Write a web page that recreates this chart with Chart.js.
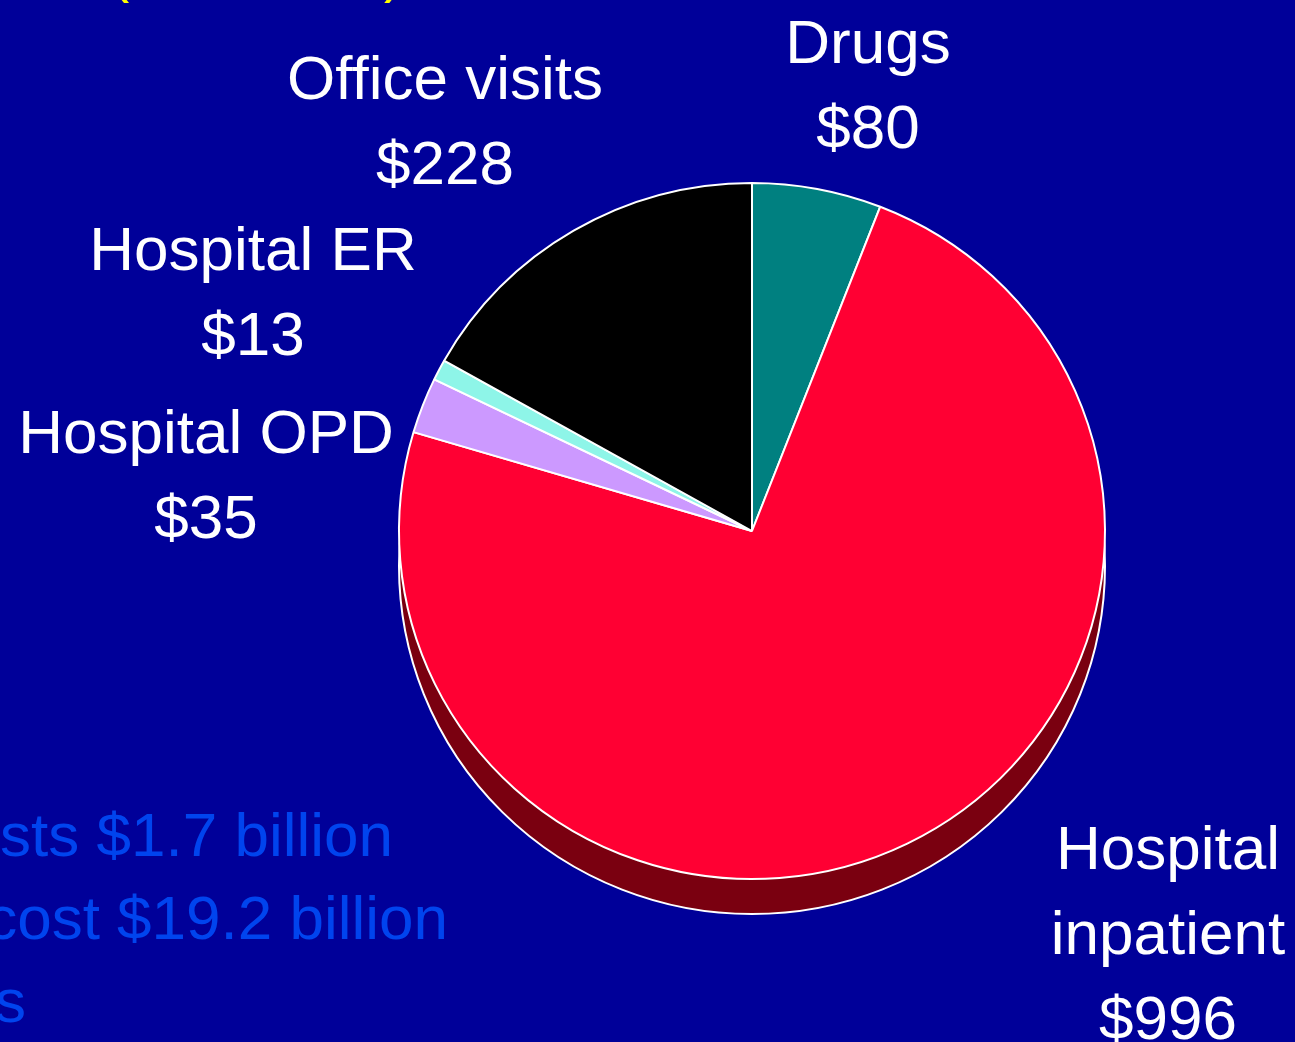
<!DOCTYPE html>
<html>
<head>
<meta charset="utf-8">
<style>
  html, body { margin: 0; padding: 0; background: #000099; overflow: hidden; }
  #wrap { position: relative; width: 1295px; height: 1042px; }
</style>
<script src="https://cdn.jsdelivr.net/npm/chart.js@4/dist/chart.umd.min.js"></script>
</head>
<body>
<div id="wrap"><canvas id="pie" width="1295" height="1042"></canvas></div>
<script>
// Spending by service type, $ millions
const categories = ['Drugs', 'Hospital inpatient', 'Hospital OPD', 'Hospital ER', 'Office visits'];
const amounts = [80, 996, 35, 13, 228];
const sliceColors = ['#008080', '#FF0033', '#CC99FF', '#8EF5E8', '#000000'];
const shadowColors = ['#004444', '#7A0010', '#664C80', '#477A74', '#000000'];

// Label text lines and their anchor points (centre x, first baseline y)
const labelLines = [
  { lines: ['Drugs', '$80'], x: 868, y: 63 },
  { lines: ['Hospital', 'inpatient', '$996'], x: 1168, y: 869 },
  { lines: ['Hospital OPD', '$35'], x: 206, y: 453 },
  { lines: ['Hospital ER', '$13'], x: 253, y: 270 },
  { lines: ['Office visits', '$228'], x: 445, y: 99 }
];
const noteLines = ['sts $1.7 billion', 'cost $19.2 billion', 's'];
const titleText = '(in millions)';

const FONT = '"Liberation Sans", Arial, Helvetica, sans-serif';
const DEPTH = 35;          // extrusion depth in screen pixels
const TILT = 0.986;        // slight vertical foreshortening of the disc

// Tilt the disc slightly: squash around the pie centre while datasets draw
const tilt = {
  id: 'tilt',
  beforeDatasetsDraw(chart) {
    const arc = chart.getDatasetMeta(0).data[0];
    const ctx = chart.ctx;
    ctx.save();
    ctx.translate(arc.x, arc.y);
    ctx.scale(1, TILT);
    ctx.translate(-arc.x, -arc.y);
  },
  afterDatasetsDraw(chart) {
    chart.ctx.restore();
  }
};

const backdrop = {
  id: 'backdrop',
  beforeDraw(chart) {
    const ctx = chart.ctx;
    ctx.save();
    ctx.fillStyle = '#000099';
    ctx.fillRect(0, 0, chart.width, chart.height);
    ctx.restore();
  }
};

// Extruded underside of the pie, drawn from the arc elements shifted downward
const depth = {
  id: 'depth',
  beforeDatasetsDraw(chart) {
    const ctx = chart.ctx;
    const meta = chart.getDatasetMeta(0);
    const dy = DEPTH / TILT;
    ctx.save();
    meta.data.forEach((arc, i) => {
      const p = arc.getProps(['x', 'y', 'startAngle', 'endAngle', 'outerRadius'], true);
      ctx.beginPath();
      ctx.moveTo(p.x, p.y + dy);
      ctx.arc(p.x, p.y + dy, p.outerRadius, p.startAngle, p.endAngle);
      ctx.closePath();
      ctx.fillStyle = shadowColors[i];
      ctx.fill();
    });
    const p = meta.data[0].getProps(['x', 'y', 'outerRadius'], true);
    ctx.beginPath();
    ctx.arc(p.x, p.y + dy, p.outerRadius, 0, Math.PI * 2);
    ctx.lineWidth = 2;
    ctx.strokeStyle = '#FFFFFF';
    ctx.stroke();
    ctx.restore();
  }
};

const texts = {
  id: 'texts',
  afterDraw(chart) {
    const ctx = chart.ctx;
    ctx.save();
    ctx.font = '62px ' + FONT;
    ctx.textBaseline = 'alphabetic';
    ctx.textAlign = 'center';
    ctx.fillStyle = '#FFFFFF';
    labelLines.forEach(l => {
      l.lines.forEach((t, k) => ctx.fillText(t, l.x, l.y + k * 85));
    });
    ctx.textAlign = 'right';
    ctx.fillStyle = '#0044EE';
    const ends = [393, 448, 26];
    noteLines.forEach((t, k) => ctx.fillText(t, ends[k], 856 + k * 83));
    ctx.font = '58px ' + FONT;
    ctx.textAlign = 'left';
    ctx.fillStyle = '#FFFF00';
    ctx.fillText(titleText, 110, -9);
    ctx.restore();
  }
};

new Chart(document.getElementById('pie'), {
  type: 'pie',
  data: {
    labels: categories,
    datasets: [{
      data: amounts,
      backgroundColor: sliceColors,
      borderColor: '#FFFFFF',
      borderWidth: 2
    }]
  },
  options: {
    responsive: false,
    animation: false,
    layout: { padding: { left: 398, right: 189, top: 177, bottom: 157 } },
    plugins: {
      legend: { display: false },
      tooltip: { enabled: false }
    }
  },
  plugins: [backdrop, tilt, depth, texts]
});
</script>
</body>
</html>
